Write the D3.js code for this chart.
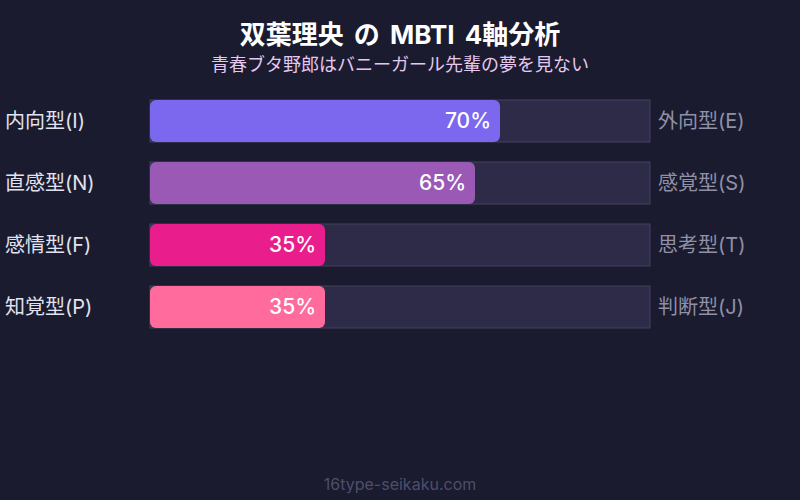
<!DOCTYPE html>
<html>
<head>
<meta charset="utf-8">
<script src="https://cdn.jsdelivr.net/npm/d3@7"></script>
<style>
  body { margin: 0; background: #1a1b2e; }
  svg { display: block; font-family: Inter, "Noto Sans CJK JP", sans-serif; }
</style>
</head>
<body>
<div id="chart"></div>
<script>
const leftLabels = ["内向型(I)", "直感型(N)", "感情型(F)", "知覚型(P)"];
const rightLabels = ["外向型(E)", "感覚型(S)", "思考型(T)", "判断型(J)"];
const values = [70, 65, 35, 35];
const colors = ["#7b68ee", "#9b59b6", "#e91e8c", "#ff6b9d"];

const width = 800, height = 500;
const margin = { top: 100, left: 150, right: 150 };
const barH = 42, rowStep = 62;

const svg = d3.select("#chart").append("svg")
  .attr("width", width)
  .attr("height", height);

svg.append("rect")
  .attr("width", width)
  .attr("height", height)
  .attr("fill", "#1a1b2e");

svg.append("text")
  .attr("x", width / 2)
  .attr("y", 44)
  .attr("text-anchor", "middle")
  .attr("fill", "#ffffff")
  .attr("font-size", 26)
  .attr("font-weight", "bold")
  .attr("word-spacing", 4)
  .text("双葉理央 の MBTI 4軸分析");

svg.append("text")
  .attr("x", width / 2)
  .attr("y", 71)
  .attr("text-anchor", "middle")
  .attr("fill", "#e6c8ee")
  .attr("font-size", 18)
  .text("青春ブタ野郎はバニーガール先輩の夢を見ない");

const x = d3.scaleLinear()
  .domain([0, 100])
  .range([margin.left, width - margin.right]);

const y = d3.scaleBand()
  .domain(d3.range(values.length))
  .range([margin.top, margin.top + rowStep * (values.length - 1) + barH])
  .paddingInner((rowStep - barH) / rowStep)
  .paddingOuter(0);

const rows = svg.selectAll("g.row")
  .data(values)
  .enter().append("g")
  .attr("class", "row");

rows.append("rect")
  .attr("x", x(0))
  .attr("y", (d, i) => y(i))
  .attr("width", x(100) - x(0))
  .attr("height", y.bandwidth())
  .attr("fill", "#2d2b48")
  .attr("stroke", "#42425f")
  .attr("stroke-width", 1);

rows.append("rect")
  .attr("x", x(0))
  .attr("y", (d, i) => y(i))
  .attr("width", d => x(d) - x(0))
  .attr("height", y.bandwidth())
  .attr("rx", 6)
  .attr("fill", (d, i) => colors[i]);

rows.append("text")
  .attr("x", d => x(d) - 9)
  .attr("y", (d, i) => y(i) + y.bandwidth() / 2)
  .attr("dy", "0.35em")
  .attr("text-anchor", "end")
  .attr("fill", "#ffffff")
  .attr("font-size", 21)
  .attr("font-weight", 500)
  .text(d => d + "%");

rows.append("text")
  .attr("x", 5)
  .attr("y", (d, i) => y(i) + y.bandwidth() / 2)
  .attr("dy", "0.35em")
  .attr("fill", "#e2e2f0")
  .attr("font-size", 20)
  .text((d, i) => leftLabels[i]);

rows.append("text")
  .attr("x", x(100) + 8)
  .attr("y", (d, i) => y(i) + y.bandwidth() / 2)
  .attr("dy", "0.35em")
  .attr("fill", "#9090a8")
  .attr("font-size", 20)
  .text((d, i) => rightLabels[i]);

svg.append("text")
  .attr("x", width / 2)
  .attr("y", 490)
  .attr("text-anchor", "middle")
  .attr("fill", "#4e4e6c")
  .attr("font-size", 16)
  .text("16type-seikaku.com");
</script>
</body>
</html>
